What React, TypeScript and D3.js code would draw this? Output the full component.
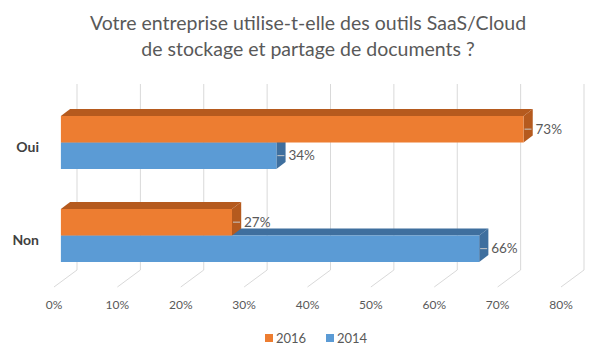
import React from "react";
import * as d3 from "d3";

const categories = ["Oui", "Non"];
const seriesNames = ["2016", "2014"];
const values2016 = [0.73, 0.27];
const values2014 = [0.34, 0.66];
const tickValues = [0, 0.1, 0.2, 0.3, 0.4, 0.5, 0.6, 0.7, 0.8];
const titleLines = [
  "Votre entreprise utilise-t-elle des outils SaaS/Cloud",
  "de stockage et partage de documents ?",
];

const W = 600;
const H = 357;
const DX = 23; // depth offset x
const DY = -17; // depth offset y
const D0 = 0.3;
const D1 = 0.7;
const FONT = "Lato, 'Open Sans', sans-serif";

const colors = {
  "2016": { front: "#ED7D31", dark: "#B55A1E" },
  "2014": { front: "#5B9BD5", dark: "#3F6F9E" },
};

export default function App() {
  const x = d3.scaleLinear().domain([0, 0.8]).range([54, 561]);
  const y = d3.scaleBand().domain(categories).range([101, 287]).paddingInner(0.43).paddingOuter(0.215);
  const sub = d3.scaleBand().domain(seriesNames).range([0, y.bandwidth()]);
  const fmt = d3.format(".0%");
  const bottomY = y.range()[1];
  const topY = y.range()[0];

  const proj = (v: number, d: number, yy: number): [number, number] => [x(v) + d * DX, yy + d * DY];
  const pts = (arr: [number, number][]) => arr.map((p) => p.join(",")).join(" ");

  const bars: any[] = [];
  const labels: any[] = [];
  categories.forEach((cat, ci) => {
    const order = ["2014", "2016"];
    order.forEach((s) => {
      const v = s === "2016" ? values2016[ci] : values2014[ci];
      const yTop = (y(cat) as number) + (sub(s) as number);
      const yBot = yTop + sub.bandwidth();
      const c = (colors as any)[s];
      const f0 = proj(0, D0, yTop);
      const f1 = proj(v, D0, yTop);
      const f2 = proj(v, D0, yBot);
      const f3 = proj(0, D0, yBot);
      const b0 = proj(0, D1, yTop);
      const b1 = proj(v, D1, yTop);
      const b2 = proj(v, D1, yBot);
      bars.push(
        <g key={cat + s}>
          <polygon points={pts([f0, b0, b1, f1])} fill={c.dark} />
          <polygon points={pts([f1, b1, b2, f2])} fill={c.dark} />
          <polygon points={pts([f0, f1, f2, f3])} fill={c.front} />
        </g>
      );
      const ly = (f1[1] + f2[1]) / 2;
      labels.push(
        <g key={"l" + cat + s}>
          <line x1={f1[0] + 1} x2={f1[0] + 8} y1={ly} y2={ly} stroke="#c8c8c8" strokeWidth={1} />
          <text x={f1[0] + 12} y={ly} dy="0.35em" fontSize={13.5} fill="#595959" fontFamily={FONT}>
            {fmt(v)}
          </text>
        </g>
      );
    });
  });

  return (
    <svg width={W} height={H} style={{ display: "block", position: "absolute", left: 0, top: 0 }}>
      <rect width={W} height={H} fill="#ffffff" />
      {titleLines.map((t, i) => (
        <text key={t} x={308} y={30 + i * 26} textAnchor="middle" fontSize={19.5} fill="#595959" fontFamily={FONT}>
          {t}
        </text>
      ))}
      {tickValues.map((t) => {
        const [bx, by] = proj(t, 1, bottomY);
        const [tx, ty] = proj(t, 1, topY);
        const [fx, fy] = proj(t, 0, bottomY);
        return (
          <g key={"g" + t}>
            <polyline points={pts([[tx, ty], [bx, by], [fx, fy]])} fill="none" stroke="#d9d9d9" strokeWidth={1} />
            <text x={x(t)} y={305} dy="0.35em" textAnchor="middle" fontSize={12} fill="#595959" fontFamily={FONT}>
              {fmt(t)}
            </text>
          </g>
        );
      })}
      {bars}
      {labels}
      {categories.map((cat) => (
        <text
          key={"c" + cat}
          x={39}
          y={(y(cat) as number) + y.bandwidth() / 2}
          dy="0.35em"
          textAnchor="end"
          fontSize={14}
          fontWeight="bold"
          fill="#404040"
          fontFamily={FONT}
        >
          {cat}
        </text>
      ))}
      <g>
        {seriesNames.map((s, i) => {
          const lx = [265, 326][i];
          return (
            <g key={"lg" + s}>
              <rect x={lx} y={334} width={8} height={8} fill={(colors as any)[s].front} />
              <text x={lx + 11} y={338} dy="0.35em" fontSize={13} fill="#595959" fontFamily={FONT}>
                {s}
              </text>
            </g>
          );
        })}
      </g>
    </svg>
  );
}
